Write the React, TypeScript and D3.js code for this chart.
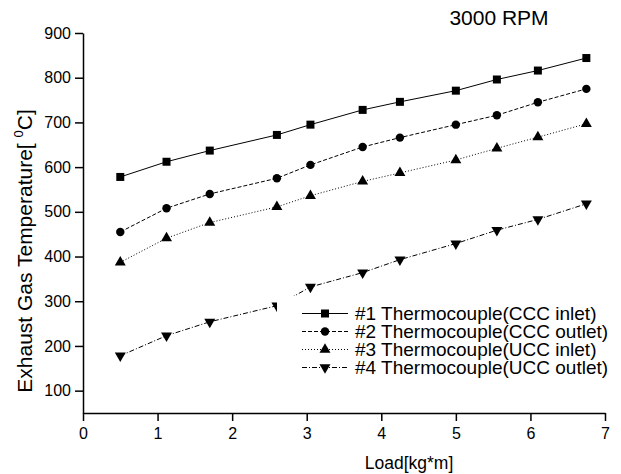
import React, { useEffect, useRef } from 'react';
import * as d3 from 'd3';

// load values (kg*m) shared by all four thermocouples
const loads = [0.5, 1.12, 1.7, 2.6, 3.05, 3.75, 4.25, 5.0, 5.55, 6.1, 6.75];

const tc1 = [578, 612, 637, 672, 695, 728, 746, 771, 796, 816, 844];
const tc2 = [455, 508, 540, 575, 605, 645, 666, 695, 716, 745, 775];
const tc3 = [387, 441, 476, 511, 536, 568, 587, 616, 642, 667, 697];
const tc4 = [178, 223, 254, 290, 332, 364, 393, 429, 459, 483, 518];

const seriesNames = [
  '#1 Thermocouple(CCC inlet)',
  '#2 Thermocouple(CCC outlet)',
  '#3 Thermocouple(UCC inlet)',
  '#4 Thermocouple(UCC outlet)',
];

const xTicks = [0, 1, 2, 3, 4, 5, 6, 7];
const yTicks = [100, 200, 300, 400, 500, 600, 700, 800, 900];

function App() {
  const ref = useRef<SVGSVGElement>(null);

  useEffect(() => {
    drawChart();
  }, []);

  function drawChart() {
    const svg = d3.select(ref.current);
    svg.selectAll('*').remove();

    const font = 'Arial, "Liberation Sans", sans-serif';

    const xScale = d3.scaleLinear().domain([0, 7]).range([83, 605]);
    const yScale = d3.scaleLinear().domain([50, 900]).range([413, 33]);

    const datasets = [
      { name: seriesNames[0], values: tc1, dash: null, symbol: d3.symbolSquare, size: 64, rot: 0 },
      { name: seriesNames[1], values: tc2, dash: '4,2', symbol: d3.symbolCircle, size: 56, rot: 0 },
      { name: seriesNames[2], values: tc3, dash: '1,2', symbol: d3.symbolTriangle, size: 52, rot: 0 },
      { name: seriesNames[3], values: tc4, dash: '5,2,1,2', symbol: d3.symbolTriangle, size: 52, rot: 180 },
    ];

    const line = d3
      .line<number>()
      .x((d, i) => xScale(loads[i]))
      .y(d => yScale(d));

    // lines + markers
    const lines = svg.append('g').attr('class', 'lines');
    datasets.forEach(ds => {
      lines
        .append('path')
        .attr('d', line(ds.values))
        .attr('fill', 'none')
        .attr('stroke', '#000')
        .attr('stroke-width', 1)
        .attr('stroke-dasharray', ds.dash);
      lines
        .selectAll(null)
        .data(ds.values)
        .enter()
        .append('path')
        .attr('d', d3.symbol().type(ds.symbol).size(ds.size)())
        .attr('transform', (d, i) => `translate(${xScale(loads[i])},${yScale(d)}) rotate(${ds.rot})`)
        .attr('fill', '#000');
    });

    // x axis
    const xAxis = svg.append('g').attr('transform', 'translate(0,413)');
    xAxis
      .call(d3.axisBottom(xScale).tickValues(d3.range(0, 7.01, 0.5)).tickSize(5).tickFormat(() => ''))
      .call(g => g.select('.domain').remove());
    xAxis
      .call(
        d3.axisBottom(xScale).tickValues(xTicks).tickSize(8).tickSizeOuter(0).tickPadding(7).tickFormat(d3.format('d'))
      )
      .style('font-family', font)
      .style('font-size', '16px');
    xAxis.selectAll('line').attr('stroke-width', 1.5);
    xAxis.select('.domain').attr('stroke-width', 1.5);

    // y axis
    const yAxis = svg.append('g').attr('transform', 'translate(83,0)');
    yAxis
      .call(d3.axisLeft(yScale).tickValues(d3.range(50, 901, 50)).tickSize(4).tickFormat(() => ''))
      .call(g => g.select('.domain').remove());
    yAxis
      .call(d3.axisLeft(yScale).tickValues(yTicks).tickSize(8).tickSizeOuter(0).tickPadding(4))
      .style('font-family', font)
      .style('font-size', '16px');
    yAxis.selectAll('line').attr('stroke-width', 1.5);
    yAxis.select('.domain').attr('stroke-width', 1.5);
    svg.selectAll('.tick text').attr('fill', '#000');

    // legend
    svg
      .append('rect')
      .attr('x', 277)
      .attr('y', 296)
      .attr('width', 330)
      .attr('height', 108)
      .attr('fill', '#fff');

    const legend = svg.append('g').attr('class', 'legend');
    datasets.forEach((ds, i) => {
      const y = 313.5 + i * 18;
      legend
        .append('line')
        .attr('x1', 302)
        .attr('x2', 348)
        .attr('y1', y)
        .attr('y2', y)
        .attr('stroke', '#000')
        .attr('stroke-dasharray', ds.dash);
      legend
        .append('path')
        .attr('d', d3.symbol().type(ds.symbol).size(ds.size)())
        .attr('transform', `translate(325,${y}) rotate(${ds.rot})`)
        .attr('fill', '#000');
      legend
        .append('text')
        .attr('x', 355)
        .attr('y', y + 6.5)
        .attr('font-family', font)
        .style('font-size', '19px')
        .text(ds.name);
    });

    // title
    svg
      .append('text')
      .attr('x', 499)
      .attr('y', 25)
      .attr('text-anchor', 'middle')
      .attr('font-family', font)
      .style('font-size', '21px')
      .text('3000 RPM');

    // axis labels
    svg
      .append('text')
      .attr('x', 409)
      .attr('y', 469)
      .attr('text-anchor', 'middle')
      .attr('font-family', font)
      .style('font-size', '17.5px')
      .text('Load[kg*m]');

    const yLabel = svg
      .append('text')
      .attr('transform', 'translate(32,251) rotate(-90)')
      .attr('text-anchor', 'middle')
      .attr('font-family', font)
      .style('font-size', '21px');
    yLabel.append('tspan').text('Exhaust Gas Temperature[ ');
    yLabel.append('tspan').attr('dy', -9).style('font-size', '13px').text('0');
    yLabel.append('tspan').attr('dy', 9).text('C]');
  }

  return (
    <svg
      ref={ref}
      width={621}
      height={474}
      style={{ position: 'absolute', left: 0, top: 0, background: '#fff' }}
    />
  );
}

export default App;
